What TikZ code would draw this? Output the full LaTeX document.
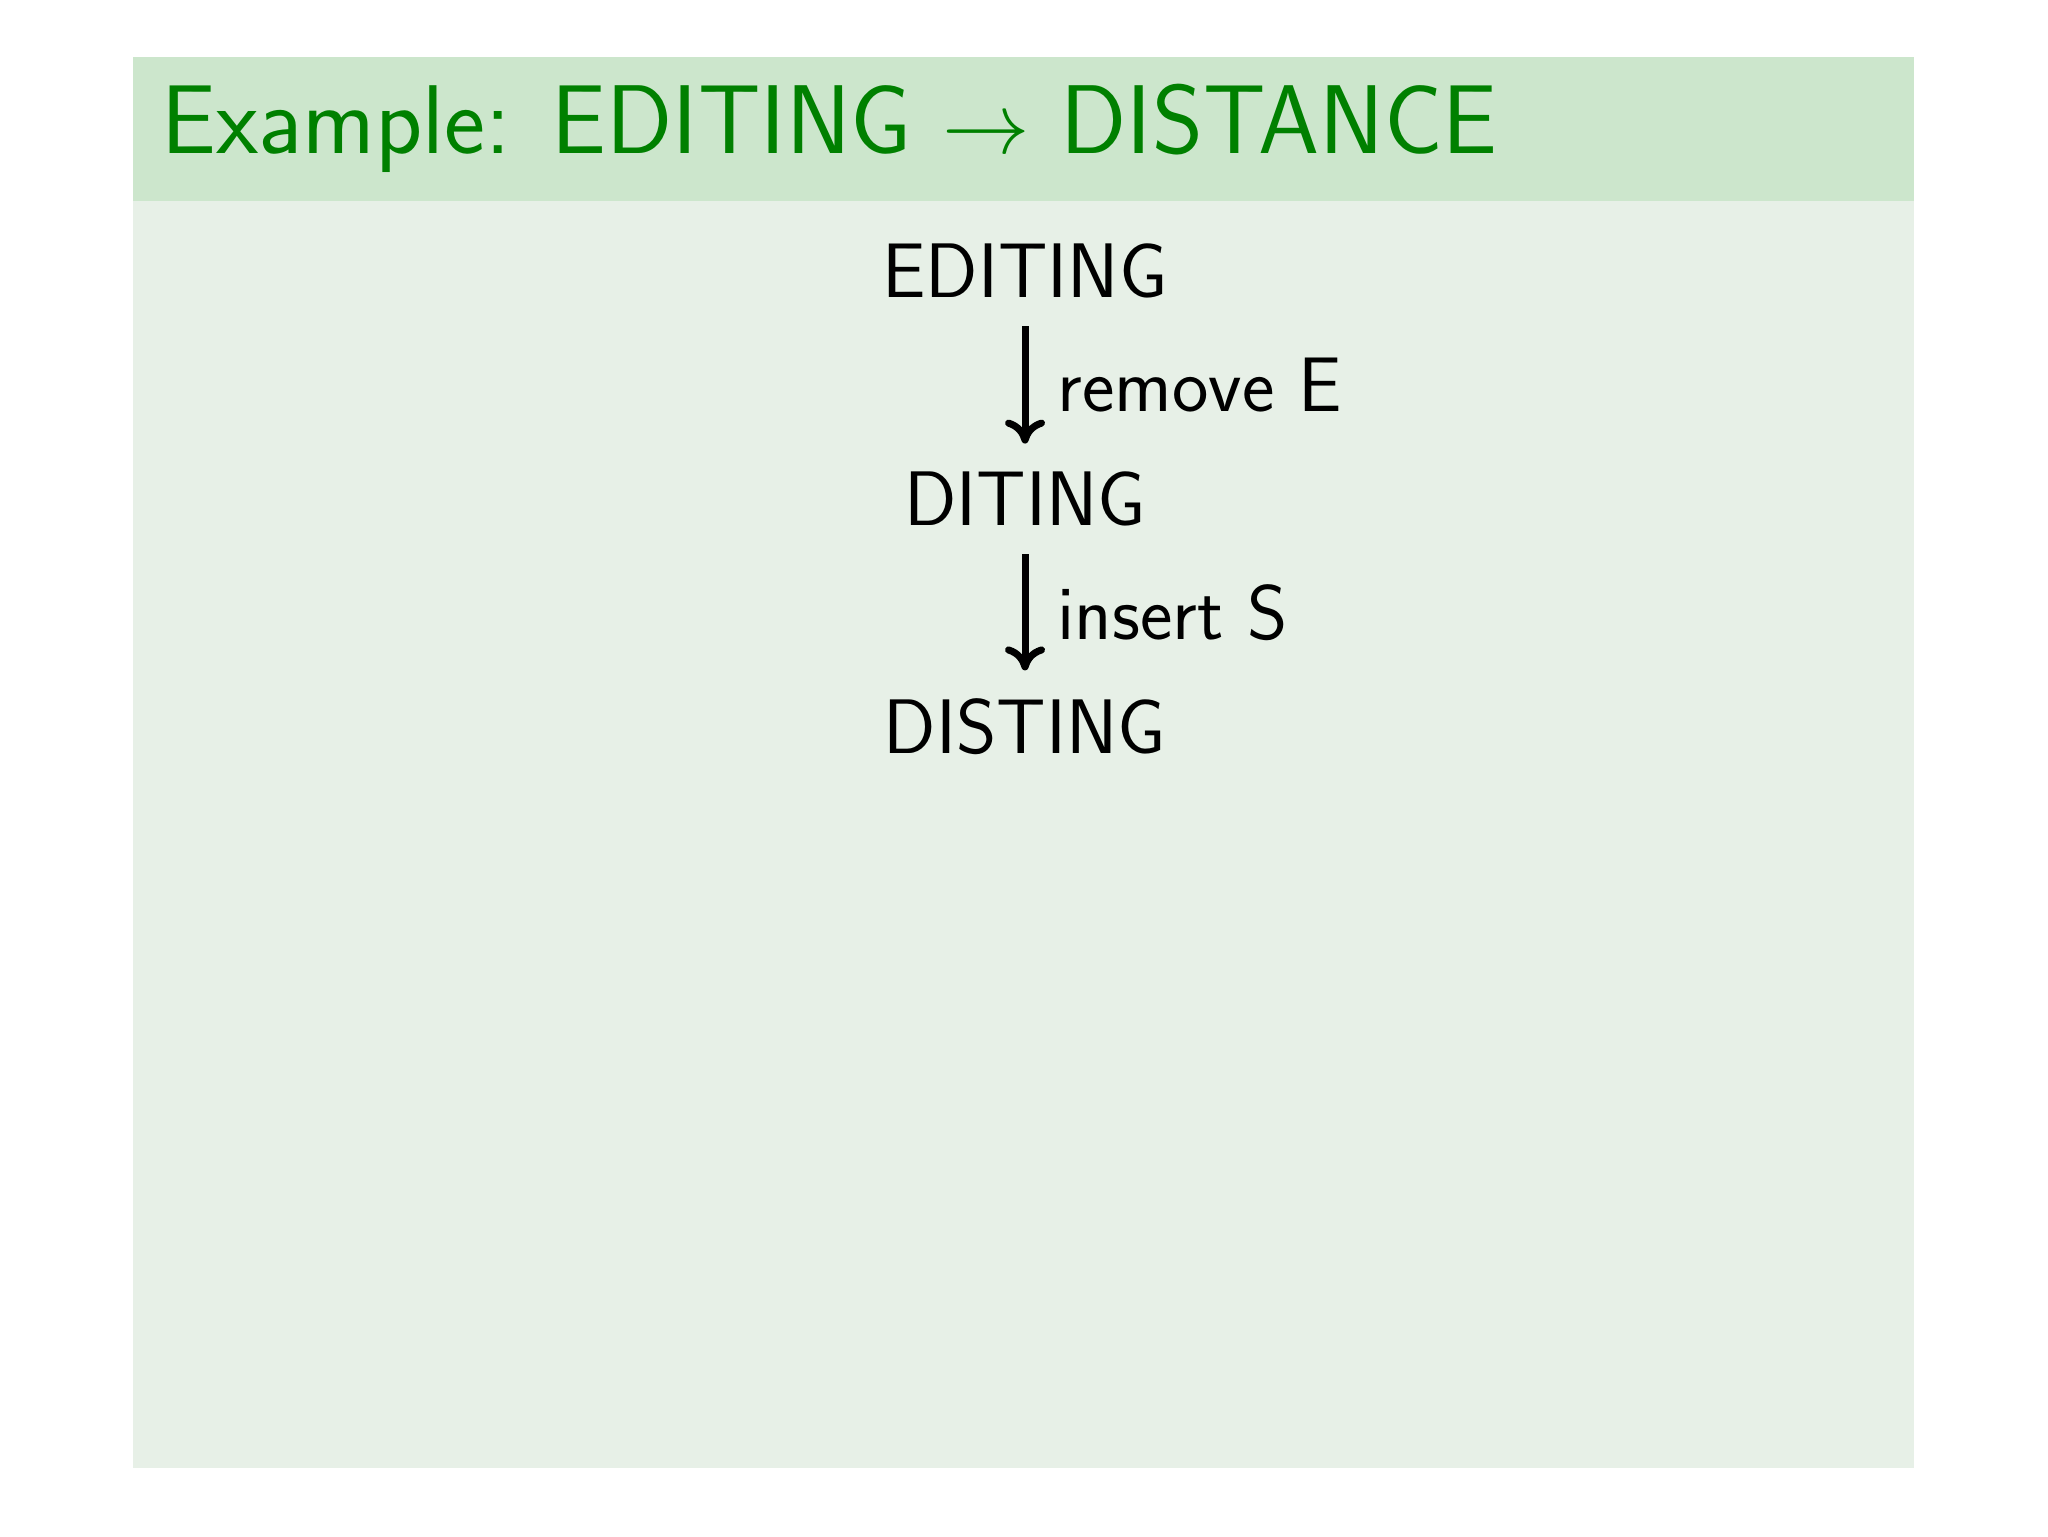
\documentclass[tikz,border=0pt]{standalone}
\usepackage{fontspec}
\usepackage{amsmath}
\usepackage{amssymb}
\usetikzlibrary{arrows.meta}
\definecolor{titlegreen}{rgb}{0,0.5,0}
\definecolor{titleband}{RGB}{204,230,204}
\definecolor{bodyband}{RGB}{231,240,231}

\begin{document}
\begin{tikzpicture}[x=0.1mm, y=0.1mm]
            \tikzstyle{every node}+=[inner sep=0pt]
            \tikzstyle{word}=[font=\sffamily\fontsize{22}{26}\selectfont, anchor=base]
            \tikzstyle{editlabel}=[font=\sffamily\fontsize{22}{26}\selectfont, anchor=base west]
            \tikzstyle{editarrow}=[line width=2pt, -{To[length=2.4mm,width=4mm,round]}]
            \useasboundingbox (0,0) rectangle (2048,-1536);
            \fill [bodyband] (133,-201) rectangle (1914,-1468);
            \fill [titleband] (133,-57) rectangle (1914,-201);
            \node [anchor=base west, text=titlegreen, font=\sffamily\fontsize{27.8}{33}\selectfont] (title) at (161,-153) {Example: EDITING $\rightarrow$ DISTANCE};
            \node [word] (editing) at (1025,-297) {EDITING};
            \node [word] (diting) at (1025,-525) {DITING};
            \node [word] (disting) at (1025,-753) {DISTING};
            \draw [editarrow, shorten <=0.28cm, shorten >=0.27cm] (editing.south) -- (diting.north);
            \draw [editarrow, shorten <=0.28cm, shorten >=0.27cm] (diting.south) -- (disting.north);
            \node [editlabel] (remove) at (1057,-411) {remove E};
            \node [editlabel] (insert) at (1057,-639) {insert S};
\end{tikzpicture}
\end{document}
